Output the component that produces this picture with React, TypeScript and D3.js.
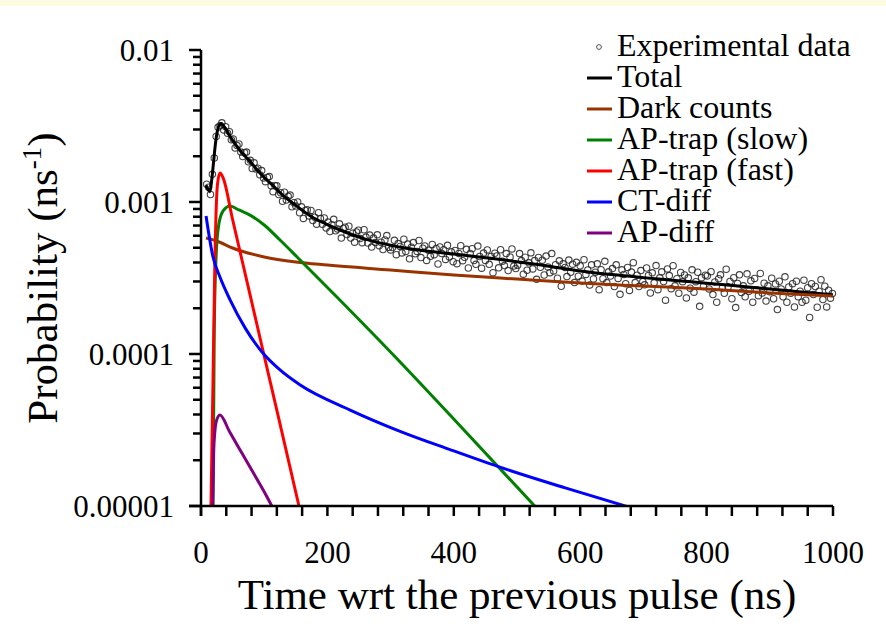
import React from 'react';
import * as d3 from 'd3';

const W = 886;
const H = 644;

// Experimental data: bins start at 9 ns, every 3 ns; values in units of 1e-6 ns^-1
const expStart = 9;
const expStep = 3;
const expValues = [
  1310, 1250, 1120, 1520, 1950, 2700, 3100, 3180,
  3320, 2980, 3130, 2830, 2900, 2570, 2600, 2270, 2350, 2410, 2130, 1990, 2110, 2130, 1840, 1880, 1660, 1810, 1650, 1670, 1510, 1610, 1440,
  1360, 1450, 1470, 1280, 1170, 1280, 1280, 1120, 1150, 1010, 1160, 1030, 1090, 1110, 930, 990, 940, 1000, 850, 930, 780, 880, 890, 810, 880, 755, 795, 715, 850, 780, 715, 785, 675,
  738, 639, 709, 769, 646, 665, 718, 579, 670, 682, 611, 693, 579, 623, 544, 635, 653, 575, 540, 657, 588, 537, 606, 505, 579, 541, 608, 516, 544, 487, 563, 601, 503, 484,
  501, 560, 450, 533, 510, 462, 569, 472, 529, 423, 504, 541, 456, 473, 558, 431, 497, 514, 413, 482, 439, 526, 450, 495, 391, 506, 458, 485, 419, 519, 435, 470, 405,
  480, 393, 459, 516, 411, 433, 488, 368, 459, 493, 412, 389, 513, 438, 367, 461, 413, 484, 389, 438, 343, 460, 442, 369, 485, 408, 382, 458, 354, 435, 491, 379, 365,
  384, 458, 412, 335, 433, 356, 398, 463, 363, 412, 310, 432, 372, 414, 331, 441, 374, 343, 458, 352, 387, 315, 410, 279, 392, 371, 323, 415, 345, 390, 295, 401, 325,
  380, 302, 417, 334, 357, 284, 386, 312, 345, 392, 265, 359, 313, 407, 295, 347, 326, 365, 278, 386, 314, 247, 358, 334, 290, 371, 262, 346, 399, 295, 330, 278, 354, 299,
  285, 368, 329, 252, 342, 294, 382, 265, 317, 347, 300, 226, 363, 328, 269, 381, 281, 313, 251, 344, 299, 331, 234, 317, 271, 358, 255, 299, 345, 206, 318, 278, 330,
  326, 268, 348, 246, 298, 219, 313, 332, 272, 251, 361, 277, 300, 231, 318, 202, 291, 332, 254, 281, 238, 337, 259, 303, 219, 314, 265, 242, 339, 252, 292, 223, 281,
  257, 315, 231, 289, 196, 301, 268, 238, 322, 219, 276, 251, 290, 204, 301, 238, 259, 219, 306, 226, 273, 174, 290, 246, 278, 203, 259, 308, 228, 279, 204, 263, 233, 250,
];

// Fitted curves: [time ns, value in 1e-6 ns^-1]
const totalCurve: [number, number][] = [
  [8, 1290], [11, 1210], [14, 1170], [17, 1400], [20, 1850], [23, 2450], [26, 2950], [29, 3220], [32, 3280],
  [36, 3150], [40, 2980], [46, 2700], [55, 2380], [65, 2100], [75, 1900], [85, 1700], [100, 1450], [115, 1270],
  [125, 1150], [150, 950], [175, 800], [200, 710], [230, 630], [260, 570], [290, 530], [320, 500], [350, 480],
  [400, 455], [450, 430], [500, 405], [550, 378], [600, 352], [650, 333], [700, 318], [750, 305], [800, 292],
  [850, 280], [900, 268], [950, 256], [1000, 245],
];
const darkCurve: [number, number][] = [
  [8, 580], [25, 554], [50, 498], [100, 435], [150, 403], [200, 385], [300, 357], [400, 331], [500, 311],
  [600, 293], [700, 280], [800, 268], [900, 252], [1000, 241],
];
const slowCurve: [number, number][] = [
  [19, 10], [21, 144], [24, 448], [28, 706], [35, 873], [46, 940], [60, 886], [77.5, 820], [100, 706],
  [125, 562], [152, 435], [215, 237], [315, 88.6], [394, 39.7], [528, 10],
];
const fastCurve: [number, number][] = [
  [15.8, 10], [19, 67], [22, 415], [26, 1300], [30, 1550], [35, 1440], [50, 767], [75, 273], [100, 97],
  [125, 34.7], [155, 10],
];
const ctCurve: [number, number][] = [
  [8, 810], [19, 435], [30, 321], [46, 227], [70, 148], [96.5, 103], [125, 78.5], [157, 62.5], [236, 42.8],
  [315, 31], [394, 23.5], [473, 18], [575, 13.2], [675, 9.9],
];
const apDiffCurve: [number, number][] = [
  [18.5, 10], [20, 22], [22, 31], [25, 37], [30, 39.7], [45, 30.9], [60, 24.1], [80, 17.3], [100, 12.4], [112, 10],
];

const yTickValues = [1e-5, 1e-4, 1e-3, 1e-2];
const yTickLabels = ['0.00001', '0.0001', '0.001', '0.01'];
const xTickLabels = [0, 200, 400, 600, 800, 1000];

const legendNames = ['Experimental data', 'Total', 'Dark counts', 'AP-trap (slow)', 'AP-trap (fast)', 'CT-diff', 'AP-diff'];
const seriesColors = ['#444444', '#000000', '#993300', '#008000', '#ff0000', '#0000ff', '#800080'];

const FONT = 'Liberation Serif, Times New Roman, serif';

export default function App() {
  const x = d3.scaleLinear().domain([0, 1000]).range([201, 833]);
  const y = d3.scaleLog().domain([1e-5, 1e-2]).range([506, 50]);
  const U = 1e-6;

  const line = d3
    .line<[number, number]>()
    .x((d) => x(d[0]))
    .y((d) => y(d[1] * U))
    .curve(d3.curveMonotoneX);

  const curves = [totalCurve, darkCurve, slowCurve, fastCurve, ctCurve, apDiffCurve];

  const minorY: number[] = [];
  [1e-5, 1e-4, 1e-3].forEach((d) => {
    for (let k = 2; k <= 9; k++) minorY.push(k * d);
  });
  const xTicks = d3.range(0, 1001, 40);

  const x0 = x(0);
  const yb = y(1e-5);
  const tStyle = { fontFamily: FONT };

  return (
    <svg
      width={W}
      height={H}
      style={{ position: 'absolute', left: 0, top: 0, display: 'block', background: '#ffffff' }}
    >
      <rect x={0} y={0} width={W} height={H} fill="#ffffff" />
      <rect x={0} y={0} width={W} height={6} fill="#fefce0" />
      <defs>
        <clipPath id="plotclip">
          <rect x={x(0)} y={y(1e-2)} width={x(1000) - x(0)} height={y(1e-5) - y(1e-2)} />
        </clipPath>
      </defs>

      {/* experimental points */}
      <g>
        {expValues.map((v, i) => (
          <circle
            key={i}
            cx={x(expStart + i * expStep)}
            cy={y(v * U)}
            r={3.2}
            fill="none"
            stroke="#222222"
            strokeWidth={1.1}
            strokeOpacity={0.85}
          />
        ))}
      </g>

      {/* curves */}
      <g clipPath="url(#plotclip)">
        {curves.map((c, i) => (
          <path key={i} d={line(c) || ''} fill="none" stroke={seriesColors[i + 1]} strokeWidth={3} strokeLinejoin="round" />
        ))}
      </g>

      {/* axes */}
      <g stroke="#000" strokeWidth={2.5}>
        <line x1={x0} y1={y(1e-2)} x2={x0} y2={yb + 10} />
        <line x1={x0 - 12} y1={yb} x2={x(1000)} y2={yb} />
        {yTickValues.map((v) => (
          <line key={'M' + v} x1={x0 - 12} y1={y(v)} x2={x0} y2={y(v)} />
        ))}
        {minorY.map((v) => (
          <line key={'m' + v} x1={x0 - 8} y1={y(v)} x2={x0} y2={y(v)} />
        ))}
        {xTicks.map((t) => (
          <line key={'x' + t} x1={x(t)} y1={yb} x2={x(t)} y2={yb + 10} />
        ))}
      </g>

      {/* tick labels */}
      {yTickValues.map((v, i) => (
        <text key={'yl' + v} x={174} y={y(v)} dy="0.35em" textAnchor="end" fontSize={31} fill="#000" style={tStyle}>
          {yTickLabels[i]}
        </text>
      ))}
      {xTickLabels.map((t) => (
        <text key={'xl' + t} x={x(t)} y={563} textAnchor="middle" fontSize={31} fill="#000" style={tStyle}>
          {t}
        </text>
      ))}

      {/* axis titles */}
      <text x={(x(0) + x(1000)) / 2} y={609} fontSize={43} textAnchor="middle" fill="#000" style={tStyle}>
        Time wrt the previous pulse (ns)
      </text>
      <text
        transform={`translate(57, ${(y(1e-2) + y(1e-5)) / 2}) rotate(-90)`}
        fontSize={43}
        textAnchor="middle"
        fill="#000"
        style={tStyle}
      >
        Probability (ns<tspan fontSize={27} dy={-16}>-1</tspan><tspan dy={16}>)</tspan>
      </text>

      {/* legend */}
      {legendNames.map((name, i) => {
        const by = 56 + i * 31;
        return (
          <g key={name}>
            {i === 0 ? (
              <circle cx={599} cy={by - 9} r={2.4} fill="none" stroke="#555" strokeWidth={1} />
            ) : (
              <line x1={587} x2={612} y1={by - 9} y2={by - 9} stroke={seriesColors[i]} strokeWidth={3} />
            )}
            <text x={617} y={by} fontSize={32} fill="#000" style={tStyle}>
              {name}
            </text>
          </g>
        );
      })}
    </svg>
  );
}
